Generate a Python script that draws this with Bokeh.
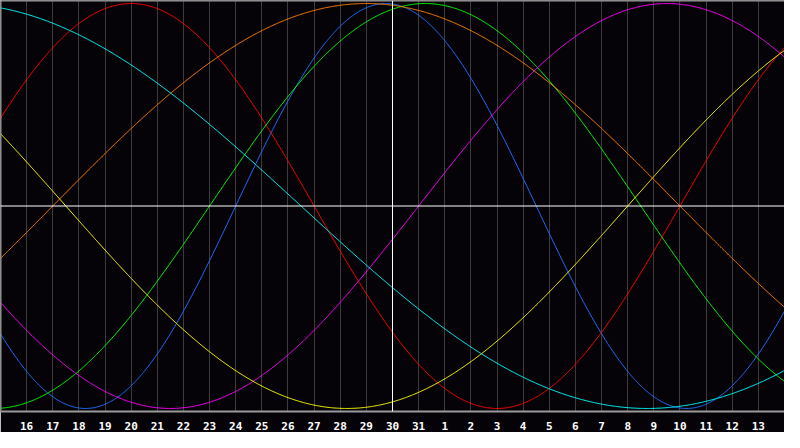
import numpy as np
from bokeh.plotting import figure
from bokeh.models import Span, FixedTicker
from bokeh.embed import file_html
from bokeh.resources import INLINE

# Day labels along the bottom (index 1..29); index 15 is "today" (30)
day_labels = ["16", "17", "18", "19", "20", "21", "22", "23", "24", "25",
              "26", "27", "28", "29", "30", "31", "1", "2", "3", "4",
              "5", "6", "7", "8", "9", "10", "11", "12", "13"]
today_index = 15

# Biorhythm cycles: length in days, and position in cycle on "today"
cycle_names = ["Physical", "Emotional", "Intellectual", "Intuitive",
               "Aesthetic", "Awareness", "Spiritual"]
cycle_periods = [23, 28, 33, 38, 43, 48, 53]
cycle_day_today = [6, 17, 7, 37, 34, 13, 30]
cycle_colors = ["#1f6fff", "#ff0000", "#00ff00", "#ff00ff",
                "#ffff00", "#ff8000", "#00ffff"]

BG = "#050308"
p = figure(width=784, height=432, x_range=(0, 30), y_range=(-1.015, 1.015),
           output_backend="svg", toolbar_location=None,
           background_fill_color=BG, border_fill_color=BG,
           min_border_left=0, min_border_right=0, min_border_top=0,
           min_border_bottom=0)
p.outline_line_color = None
p.yaxis.visible = False
p.ygrid.visible = False

ticks = list(range(1, 30))
p.xaxis.ticker = FixedTicker(ticks=ticks)
p.xaxis.major_label_overrides = {t: lab for t, lab in zip(ticks, day_labels)}
p.xaxis.major_tick_line_color = None
p.xaxis.minor_tick_line_color = None
p.xaxis.axis_line_color = "#9a9a9a"
p.xaxis.axis_line_width = 2
p.xaxis.major_label_text_color = "#ffffff"
p.xaxis.major_label_text_font = "DejaVu Sans Mono"
p.xaxis.major_label_text_font_style = "bold"
p.xaxis.major_label_text_font_size = "11px"
p.xaxis.major_label_standoff = 4
p.xgrid.ticker = FixedTicker(ticks=ticks)
p.xgrid.grid_line_color = "#3c3c3c"
p.xgrid.grid_line_width = 1

# frame edges (left, top)
p.add_layout(Span(location=0, dimension="height", line_color="#9a9a9a", line_width=2))
p.add_layout(Span(location=1.015, dimension="width", line_color="#9a9a9a", line_width=2))

x = np.linspace(0, 30, 901)
for per, d0, col in zip(cycle_periods, cycle_day_today, cycle_colors):
    d = d0 + (x - today_index)
    p.line(x, np.sin(2 * np.pi * d / per), line_color=col, line_width=1)

p.add_layout(Span(location=0, dimension="width", line_color="#ffffff", line_width=1))
p.add_layout(Span(location=today_index, dimension="height", line_color="#ffffff", line_width=1))

open("out.html", "w").write(file_html(p, INLINE))
